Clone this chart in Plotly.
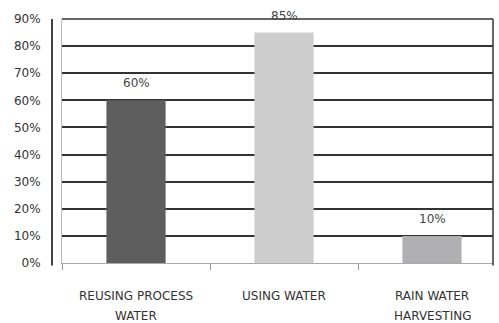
import plotly.graph_objects as go

categories = ["REUSING PROCESS<br>WATER", "USING WATER", "RAIN WATER<br>HARVESTING"]
values = [0.60, 0.85, 0.10]
labels = ["60%", "85%", "10%"]
colors = ["#5e5e5e", "#cdcdcd", "#b0b0b2"]
yticks = [0, 0.1, 0.2, 0.3, 0.4, 0.5, 0.6, 0.7, 0.8, 0.9]

fig = go.Figure()
fig.add_trace(go.Bar(x=categories, y=values, marker=dict(color=colors, line=dict(width=0)),
                     width=0.4, showlegend=False))

for c, v, t in zip(categories, values, labels):
    fig.add_annotation(x=c, y=v, text=t, showarrow=False, yanchor="bottom", yshift=8,
                       font=dict(family="DejaVu Sans", size=12, color="#444"))

# category labels, one annotation per line for precise spacing
for c in categories:
    for i, line in enumerate(c.split("<br>")):
        fig.add_annotation(x=c, y=0, yref="y", text=line, showarrow=False,
                           yanchor="middle", yshift=-33 - 20 * i,
                           font=dict(family="DejaVu Sans", size=12, color="#333"))

fig.update_layout(
    width=499, height=323,
    margin=dict(l=62, r=6, t=19, b=60),
    paper_bgcolor="white", plot_bgcolor="white",
    xaxis=dict(type="category", range=[-0.5, 2.412], showgrid=False,
               tickson="boundaries", ticks="outside", ticklen=6, tickcolor="#999",
               showline=True, linecolor="#aaa", linewidth=1,
               showticklabels=False, zeroline=False),
    yaxis=dict(range=[0, 0.9], tickvals=yticks, tickformat=".0%",
               showgrid=True, gridcolor="#333", gridwidth=1.5,
               ticks="", ticklabelstandoff=18, zeroline=False,
               showline=True, linecolor="#bbb", linewidth=1,
               tickfont=dict(family="DejaVu Sans", size=12, color="#333")),
)
# top and right border lines
fig.add_shape(type="line", xref="paper", yref="paper", x0=0, x1=1, y0=1, y1=1,
              line=dict(color="#333", width=1.5))
fig.add_shape(type="line", xref="paper", yref="paper", x0=1, x1=1, y0=-0.01, y1=1,
              line=dict(color="#333", width=1.5))
# separate left axis line
fig.add_shape(type="line", xref="paper", yref="paper", x0=-10/431, x1=-10/431, y0=-0.01, y1=1,
              line=dict(color="#444", width=2))

fig.write_html("out.html")
